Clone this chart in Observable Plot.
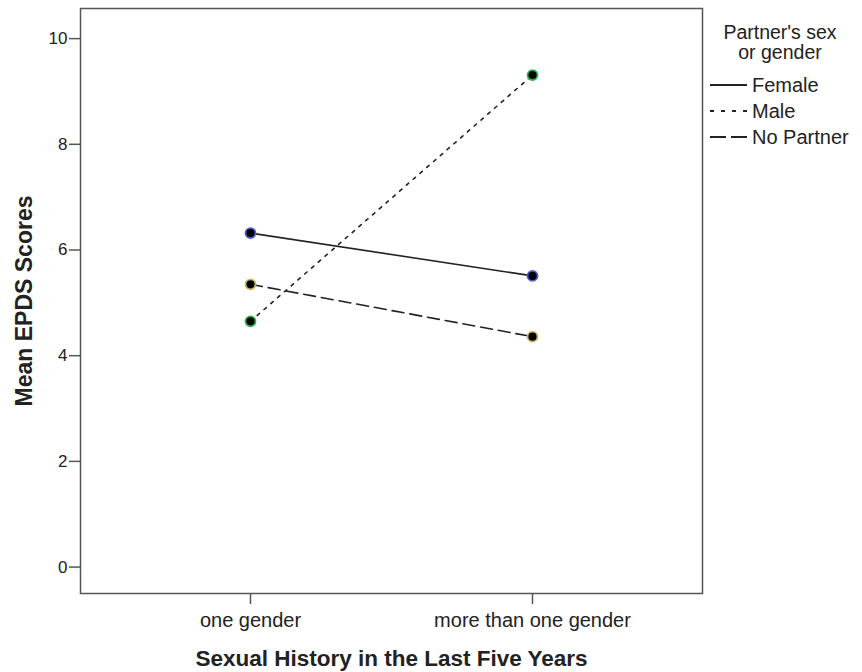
<!DOCTYPE html>
<html>
<head>
<meta charset="utf-8">
<script src="https://cdn.jsdelivr.net/npm/d3@7"></script>
<script src="https://cdn.jsdelivr.net/npm/@observablehq/plot@0.6"></script>
<style>
  html, body { margin: 0; padding: 0; background: #fff; }
  #wrap { position: relative; width: 862px; height: 672px; font-family: "Liberation Sans", Arial, sans-serif; }
  #legend { position: absolute; left: 704px; top: 20px; width: 158px; }
</style>
</head>
<body>
<div id="wrap"><div id="legend"></div></div>
<script>
const categories = ["one gender", "more than one gender"];
const series = ["Female", "Male", "No Partner"];
const femaleValues = [6.32, 5.51];
const maleValues = [4.65, 9.31];
const noPartnerValues = [5.35, 4.36];
const yTicks = [0, 2, 4, 6, 8, 10];
const dashes = {"Female": null, "Male": "3,6", "No Partner": "12,6"};
const legendDashes = {"Female": null, "Male": "4,7", "No Partner": "16,5"};
const ringColors = {"Female": "#4a5fd0", "Male": "#2fb34a", "No Partner": "#cdb86a"};

const valuesBySeries = {"Female": femaleValues, "Male": maleValues, "No Partner": noPartnerValues};
const data = series.flatMap(s => categories.map((c, i) => ({series: s, cat: c, value: valuesBySeries[s][i]})));

const lineMarks = series.map(s => Plot.line(data.filter(d => d.series === s), {
  x: "cat", y: "value", stroke: "#222", strokeWidth: 1.6,
  strokeDasharray: dashes[s]
}));
const dotMarks = series.map(s => Plot.dot(data.filter(d => d.series === s), {
  x: "cat", y: "value", r: 5, fill: "#000", stroke: ringColors[s], strokeWidth: 1.8
}));

const chart = Plot.plot({
  width: 862, height: 672,
  marginLeft: 80, marginRight: 160, marginTop: 8, marginBottom: 79,
  style: {fontFamily: "'Liberation Sans', Arial, sans-serif", fontSize: "17px", color: "#222", background: "#fff"},
  x: {type: "point", domain: categories, padding: 0.6, label: null},
  y: {domain: [-0.5, 10.57], label: null},
  marks: [
    Plot.frame({stroke: "#555", strokeWidth: 1.5}),
    Plot.axisY({ticks: yTicks, tickSize: 11, tickPadding: 2, tickFormat: d => d, fontSize: 17, stroke: "#555", strokeWidth: 1.5, label: null}),
    Plot.axisX({tickSize: 11, tickPadding: 8, fontSize: 20, stroke: "#555", strokeWidth: 1.5, label: null}),
    Plot.text(["Mean EPDS Scores"], {frameAnchor: "left", dx: -56, rotate: -90, textAnchor: "middle", lineAnchor: "middle", fontSize: 23, fontWeight: "bold", fill: "#222"}),
    Plot.text(["Sexual History in the Last Five Years"], {frameAnchor: "bottom", dy: 65, textAnchor: "middle", lineAnchor: "middle", fontSize: 22.5, fontWeight: "bold", fill: "#222"}),
    ...lineMarks,
    ...dotMarks
  ]
});
document.getElementById("wrap").prepend(chart);
chart.style.position = "absolute";
chart.style.left = "0";
chart.style.top = "0";

// Legend
const lg = d3.select("#legend").append("svg").attr("width", 158).attr("height", 140)
  .style("font-family", "'Liberation Sans', Arial, sans-serif");
lg.append("text").attr("x", 76).attr("y", 19).attr("text-anchor", "middle").attr("font-size", 19.5).attr("fill", "#222").text("Partner's sex");
lg.append("text").attr("x", 76).attr("y", 39).attr("text-anchor", "middle").attr("font-size", 19.5).attr("fill", "#222").text("or gender");
series.forEach((s, i) => {
  const y = 65 + i * 26;
  lg.append("line").attr("x1", 6).attr("x2", 43).attr("y1", y).attr("y2", y)
    .attr("stroke", "#222").attr("stroke-width", 1.8).attr("stroke-dasharray", legendDashes[s]);
  lg.append("text").attr("x", 48).attr("y", y + 7).attr("font-size", 20).attr("fill", "#222").text(s);
});
</script>
</body>
</html>
